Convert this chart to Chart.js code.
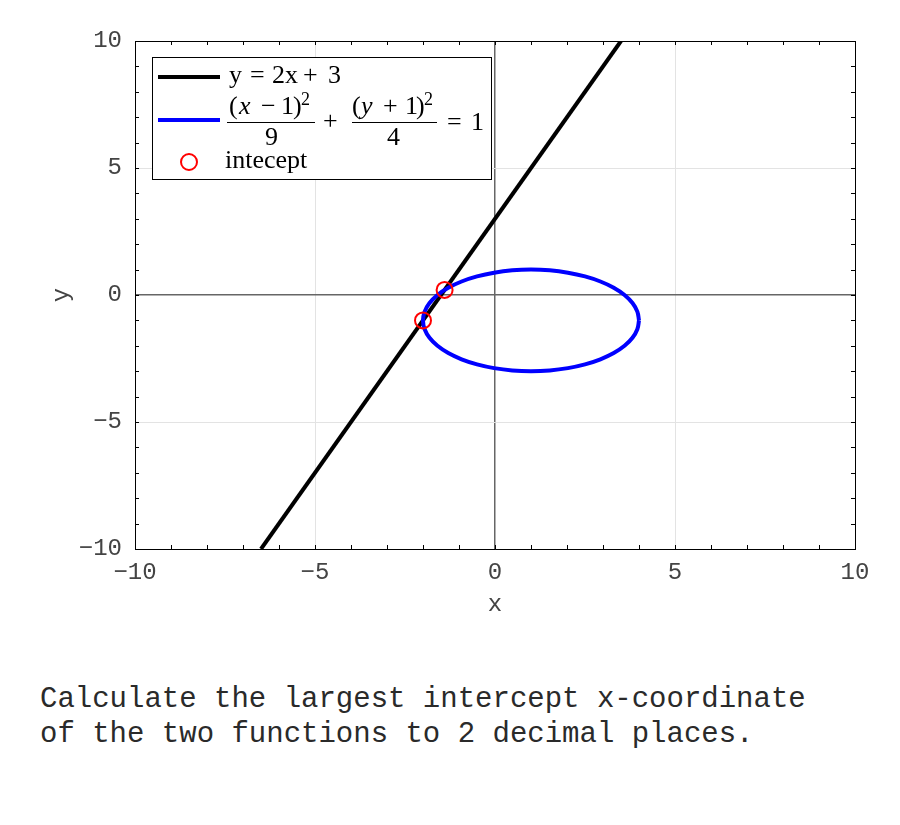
<!DOCTYPE html>
<html>
<head>
<meta charset="utf-8">
<script src="https://cdn.jsdelivr.net/npm/chart.js@4.4.1/dist/chart.umd.min.js"></script>
<style>
	body { margin: 0; background: #fff; width: 900px; height: 825px; position: relative; overflow: hidden; }
	#wrap { position: absolute; left: 0; top: 0; width: 900px; height: 640px; }
	#question { position: absolute; left: 40px; top: 682px; font-family: "Liberation Mono", monospace; font-size: 29px; line-height: 35px; color: #2a2a2a; white-space: pre; }
</style>
</head>
<body>
<div id="wrap"><canvas id="graph" width="900" height="640"></canvas></div>
<div id="question">Calculate the largest intercept x-coordinate
of the two functions to 2 decimal places.</div>
<script>
// 데이터
const lineX = [-6.5, 3.5];
const lineY = [-10, 10];
const ellipseX = [4, 3.954, 3.819, 3.598, 3.298, 2.928, 2.5, 2.026, 1.521, 1, 0.479, -0.026, -0.5, -0.928, -1.298, -1.598, -1.819, -1.954, -2,
	-1.954, -1.819, -1.598, -1.298, -0.928, -0.5, -0.026, 0.479, 1, 1.521, 2.026, 2.5, 2.928, 3.298, 3.598, 3.819, 3.954, 4];
const ellipseY = [-1, -0.653, -0.316, 0, 0.286, 0.532, 0.732, 0.879, 0.970, 1, 0.970, 0.879, 0.732, 0.532, 0.286, 0, -0.316, -0.653, -1,
	-1.347, -1.684, -2, -2.286, -2.532, -2.732, -2.879, -2.970, -3, -2.970, -2.879, -2.732, -2.532, -2.286, -2, -1.684, -1.347, -1];
const interceptX = [-2, -1.4];
const interceptY = [-1, 0.2];
const tickValues = [-10, -5, 0, 5, 10];
const axisMin = -10;
const axisMax = 10;

function toPoints(xs, ys) {
	return xs.map((x, i) => ({x: x, y: ys[i]}));
}

const tickFont = {family: '"Liberation Mono", monospace', size: 24};
const tickColor = '#444';

function gridColor(ctx) {
	const v = ctx.tick ? ctx.tick.value : null;
	if (v === 0) return '#666';
	if (v === axisMin || v === axisMax) return '#000';
	return '#e3e3e3';
}
function gridWidth(ctx) {
	const v = ctx.tick ? ctx.tick.value : null;
	return v === 0 ? 1.5 : 1;
}

// 안쪽 눈금, 축 제목, 범례 그리기
const framePlugin = {
	id: 'frameExtras',
	afterDraw(chart) {
		const {ctx, chartArea: {left, right, top, bottom}, scales: {x, y}} = chart;
		ctx.save();
		ctx.strokeStyle = '#000';
		ctx.lineWidth = 1;
		ctx.beginPath();
		for (let v = axisMin; v <= axisMax; v++) {
			const px = Math.round(x.getPixelForValue(v)) + 0.5;
			ctx.moveTo(px, bottom); ctx.lineTo(px, bottom - 4);
			ctx.moveTo(px, top); ctx.lineTo(px, top + 4);
			const py = Math.round(y.getPixelForValue(v)) + 0.5;
			ctx.moveTo(left, py); ctx.lineTo(left + 4, py);
			ctx.moveTo(right, py); ctx.lineTo(right - 4, py);
		}
		ctx.stroke();

		// 축 제목
		ctx.fillStyle = tickColor;
		ctx.font = '24px "Liberation Mono", monospace';
		ctx.textAlign = 'center';
		ctx.textBaseline = 'middle';
		ctx.fillText('x', (left + right) / 2, 605);
		ctx.translate(62, (top + bottom) / 2);
		ctx.rotate(-Math.PI / 2);
		ctx.fillText('y', 0, 0);
		ctx.restore();

		// 범례
		ctx.save();
		ctx.fillStyle = '#fff';
		ctx.fillRect(152, 57, 339, 122);
		ctx.strokeStyle = '#000';
		ctx.lineWidth = 1;
		ctx.strokeRect(152.5, 57.5, 339, 122);

		ctx.lineWidth = 4;
		ctx.strokeStyle = '#000';
		ctx.beginPath(); ctx.moveTo(158, 77); ctx.lineTo(220, 77); ctx.stroke();
		ctx.strokeStyle = '#0000ff';
		ctx.beginPath(); ctx.moveTo(158, 120); ctx.lineTo(220, 120); ctx.stroke();
		ctx.strokeStyle = '#ff0000';
		ctx.lineWidth = 2;
		ctx.beginPath(); ctx.arc(189, 162, 8, 0, Math.PI * 2); ctx.stroke();

		const rm = '26px "Liberation Serif", serif';
		const it = 'italic 26px "Liberation Serif", serif';
		const sup = '18px "Liberation Serif", serif';
		const pieces = [
			['y', rm, 229, 83], ['=', rm, 250, 83], ['2x', rm, 272, 83], ['+', rm, 303, 83], ['3', rm, 328, 83],
			['(', rm, 229, 114], ['x', it, 239, 114], ['\u2212', rm, 261, 114], ['1', rm, 281, 114], [')', rm, 293, 114], ['2', sup, 301, 105],
			['9', rm, 265, 145],
			['+', rm, 323, 129],
			['(', rm, 352, 114], ['y', it, 361, 114], ['+', rm, 383, 114], ['1', rm, 405, 114], [')', rm, 416, 114], ['2', sup, 424, 105],
			['4', rm, 387, 145],
			['=', rm, 447, 130], ['1', rm, 471, 130],
			['intecept', rm, 225, 168]
		];
		ctx.fillStyle = '#000';
		ctx.textAlign = 'left';
		ctx.textBaseline = 'alphabetic';
		pieces.forEach(p => {
			ctx.font = p[1];
			ctx.fillText(p[0], p[2], p[3]);
		});
		ctx.lineWidth = 1;
		ctx.strokeStyle = '#000';
		ctx.beginPath();
		ctx.moveTo(227, 122.5); ctx.lineTo(315, 122.5);
		ctx.moveTo(352, 122.5); ctx.lineTo(437, 122.5);
		ctx.stroke();
		ctx.restore();
	}
};

const chart = new Chart(document.getElementById('graph').getContext('2d'), {
	type: 'scatter',
	data: {
		datasets: [
			{
				label: 'intecept',
				data: toPoints(interceptX, interceptY),
				showLine: false,
				pointStyle: 'circle',
				pointRadius: 8,
				pointBorderWidth: 2,
				pointBorderColor: '#ff0000',
				pointBackgroundColor: 'rgba(0,0,0,0)',
				order: 0
			},
			{
				label: 'ellipse',
				data: toPoints(ellipseX, ellipseY),
				showLine: true,
				borderColor: '#0000ff',
				borderWidth: 4,
				tension: 0.4,
				pointRadius: 0,
				order: 1
			},
			{
				label: 'y = 2x + 3',
				data: toPoints(lineX, lineY),
				showLine: true,
				borderColor: '#000',
				borderWidth: 4,
				pointRadius: 0,
				order: 2
			}
		]
	},
	options: {
		responsive: false,
		animation: false,
		events: [],
		layout: {padding: {top: 41, right: 45, left: 0, bottom: 0}},
		plugins: {legend: {display: false}, tooltip: {enabled: false}},
		scales: {
			x: {
				type: 'linear', min: axisMin, max: axisMax,
				afterBuildTicks: s => { s.ticks = tickValues.map(v => ({value: v})); },
				ticks: {padding: 9, font: tickFont, color: tickColor, maxRotation: 0, autoSkip: false,
					callback: v => String(v).replace('-', '\u2212')},
				grid: {drawTicks: false, color: gridColor, lineWidth: gridWidth},
				border: {color: '#000', width: 1},
				afterFit: s => { s.height = 91; }
			},
			y: {
				type: 'linear', min: axisMin, max: axisMax,
				afterBuildTicks: s => { s.ticks = tickValues.map(v => ({value: v})); },
				ticks: {padding: 13, font: tickFont, color: tickColor, autoSkip: false,
					callback: v => String(v).replace('-', '\u2212')},
				grid: {drawTicks: false, color: gridColor, lineWidth: gridWidth},
				border: {color: '#000', width: 1},
				afterFit: s => { s.width = 135; }
			}
		}
	},
	plugins: [framePlugin]
});
</script>
</body>
</html>
